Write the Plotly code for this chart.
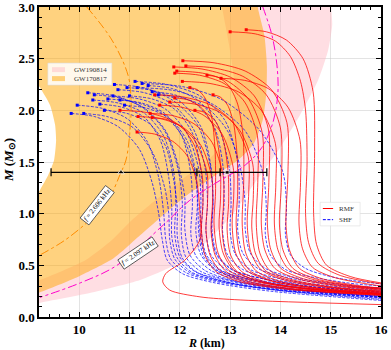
import plotly.graph_objects as go

# GW credible regions (outline points, R in km, M in Msun)
gw190814_r = [9.0, 9.22, 10.21, 11.21, 11.9, 12.5, 13.04, 13.49, 13.99, 14.39, 14.75, 14.95, 15.03, 15.01, 15.0,
              12.82, 12.84, 12.98, 13.08, 13.08, 12.92, 12.56, 12.08, 11.57, 11.05, 10.65, 10.13, 9.22, 9.0]
gw190814_m = [0.10, 0.136, 0.232, 0.358, 0.503, 0.716, 0.987, 1.297, 1.636, 1.955, 2.294, 2.585, 2.827, 3.0, 3.1,
              3.1, 3.0, 2.633, 2.294, 2.004, 1.713, 1.52, 1.346, 1.152, 0.939, 0.745, 0.552, 0.358, 0.33]
gw170817_r = [9.0, 13.55, 13.55, 13.68, 13.73, 13.72, 13.65, 13.47, 13.16, 12.64, 12.12, 11.61, 11.21, 10.69,
              9.98, 9.22, 9.0, 9.0, 9.22, 9.38, 9.50, 9.54, 9.52, 9.42, 9.22, 9.0]
gw170817_m = [3.1, 3.1, 3.0, 2.73, 2.44, 2.17, 1.91, 1.68, 1.52, 1.35, 1.17, 0.96, 0.79, 0.57,
              0.39, 0.24, 0.21, 1.05, 1.23, 1.37, 1.52, 1.71, 1.86, 2.05, 2.22, 2.4]

# constant-frequency lines
f2606_r = [10.15, 10.65, 10.97, 11.03, 11.01, 10.93, 10.83, 10.57, 10.21, 9.72, 9.22]
f2606_m = [3.0, 2.68, 2.34, 2.10, 1.81, 1.52, 1.40, 1.13, 0.94, 0.745, 0.60]
f2097_r = [13.65, 13.83, 13.93, 13.95, 13.85, 13.63, 13.30, 12.76, 12.20, 11.67, 10.75, 10.02, 9.22]
f2097_m = [3.0, 2.73, 2.44, 2.17, 1.88, 1.64, 1.47, 1.31, 1.13, 0.89, 0.50, 0.33, 0.19]

# radius constraints at 1.4 Msun
c14_r = [10.83, 12.94]
c14_m = [1.4, 1.4]
c14_lo = [1.39, 0.60]
c14_hi = [1.97, 0.79]

# RMF mass-radius curves
rmf_r = [
    [13.32, 13.72, 14.12, 14.45, 14.65, 14.68, 14.66, 14.72, 14.92, 15.4, 16.0],
    [13.0, 13.5, 13.9, 14.2, 14.4, 14.5, 14.53, 14.5, 14.56, 14.75, 15.2, 16.0],
    [12.06, 12.68, 13.3, 13.82, 14.13, 14.15, 14.11, 14.18, 14.38, 14.83, 15.6, 16.0],
    [11.88, 12.44, 13.01, 13.48, 13.76, 13.77, 13.74, 13.81, 14.01, 14.46, 15.26, 16.0],
    [12.12, 12.68, 13.25, 13.72, 14.0, 14.02, 13.98, 14.05, 14.25, 14.7, 15.5, 16.0],
    [11.94, 12.45, 12.96, 13.38, 13.64, 13.65, 13.62, 13.69, 13.89, 14.34, 15.14, 16.0],
    [11.9, 12.39, 12.88, 13.29, 13.54, 13.55, 13.52, 13.59, 13.79, 14.24, 15.04, 16.0],
    [12.82, 13.29, 13.76, 14.15, 14.39, 14.4, 14.37, 14.44, 14.64, 15.09, 16.0],
    [12.54, 12.76, 12.97, 13.15, 13.26, 13.27, 13.24, 13.31, 13.51, 13.96, 14.76, 16.0],
    [12.66, 12.8, 12.95, 13.07, 13.14, 13.15, 13.12, 13.19, 13.39, 13.84, 14.64, 16.0],
    [10.81, 11.33, 11.85, 12.28, 12.54, 12.55, 12.52, 12.6, 12.82, 13.3, 14.2, 16.0],
    [11.41, 11.85, 12.28, 12.64, 12.86, 12.87, 12.84, 12.92, 13.14, 13.6, 14.5, 16.0],
    [11.17, 11.61, 12.05, 12.42, 12.64, 12.65, 12.62, 12.7, 12.92, 13.4, 14.3, 16.0],
    [11.15, 11.5, 11.86, 12.16, 12.34, 12.4, 12.4, 12.1, 11.72, 11.66, 11.8, 12.4, 13.2, 16.0],
    [11.6, 12.04, 12.48, 12.84, 13.06, 13.07, 13.04, 13.11, 13.33, 13.8, 14.7, 16.0],
    [11.9, 12.17, 12.44, 12.67, 12.8, 12.81, 12.78, 12.86, 13.08, 13.55, 14.45, 16.0],
    [12.2, 12.35, 12.5, 12.63, 12.7, 12.71, 12.68, 12.76, 12.98, 13.45, 14.35, 16.0],
    [11.45, 11.75, 12.05, 12.3, 12.45, 12.46, 12.43, 12.5, 12.72, 13.2, 14.1, 16.0],
    [11.5, 12.06, 12.62, 13.08, 13.36, 13.37, 13.34, 13.41, 13.61, 14.06, 14.86, 16.0],
    [12.3, 12.5, 12.7, 12.86, 12.96, 12.97, 12.94, 13.01, 13.23, 13.7, 14.6, 16.0],
    [12.05, 12.6, 13.16, 13.62, 13.9, 13.91, 13.88, 13.95, 14.15, 14.6, 15.4, 16.0],
    [11.8, 12.3, 12.8, 13.2, 13.45, 13.46, 13.43, 13.5, 13.7, 14.15, 14.95, 16.0],
]
rmf_m = [
    [2.78, 2.76, 2.68, 2.50, 2.18, 1.6, 1.0, 0.7, 0.5, 0.39, 0.33],
    [2.76, 2.74, 2.67, 2.52, 2.28, 2.0, 1.5, 1.0, 0.72, 0.52, 0.4, 0.32],
    [2.48, 2.46, 2.38, 2.2, 1.88, 1.4, 0.9, 0.65, 0.47, 0.37, 0.3, 0.28],
    [2.42, 2.40, 2.32, 2.14, 1.82, 1.3, 0.9, 0.65, 0.47, 0.37, 0.3, 0.27],
    [2.43, 2.41, 2.33, 2.15, 1.83, 1.3, 0.9, 0.65, 0.47, 0.37, 0.3, 0.28],
    [2.38, 2.36, 2.28, 2.1, 1.78, 1.3, 0.9, 0.65, 0.47, 0.37, 0.3, 0.26],
    [2.36, 2.34, 2.26, 2.08, 1.76, 1.3, 0.9, 0.62, 0.45, 0.36, 0.29, 0.25],
    [2.31, 2.29, 2.21, 2.03, 1.71, 1.3, 0.9, 0.66, 0.48, 0.38, 0.3],
    [2.34, 2.32, 2.24, 2.06, 1.74, 1.3, 0.9, 0.62, 0.45, 0.35, 0.28, 0.24],
    [2.15, 2.13, 2.05, 1.87, 1.55, 1.2, 0.9, 0.62, 0.45, 0.35, 0.28, 0.23],
    [2.0, 1.98, 1.9, 1.72, 1.4, 1.1, 0.85, 0.6, 0.44, 0.34, 0.27, 0.21],
    [1.97, 1.95, 1.87, 1.69, 1.37, 1.1, 0.85, 0.6, 0.44, 0.34, 0.27, 0.22],
    [1.94, 1.92, 1.84, 1.66, 1.34, 1.1, 0.85, 0.6, 0.44, 0.34, 0.27, 0.22],
    [1.79, 1.77, 1.7, 1.55, 1.3, 1.0, 0.75, 0.55, 0.42, 0.34, 0.26, 0.195, 0.165, 0.12],
    [2.05, 2.03, 1.95, 1.77, 1.45, 1.15, 0.9, 0.62, 0.45, 0.35, 0.28, 0.23],
    [2.12, 2.1, 2.02, 1.84, 1.52, 1.15, 0.88, 0.62, 0.45, 0.35, 0.28, 0.22],
    [2.22, 2.2, 2.12, 1.94, 1.62, 1.2, 0.9, 0.62, 0.45, 0.35, 0.28, 0.22],
    [1.93, 1.91, 1.83, 1.65, 1.35, 1.1, 0.85, 0.6, 0.44, 0.34, 0.27, 0.21],
    [2.15, 2.13, 2.05, 1.87, 1.55, 1.2, 0.9, 0.63, 0.46, 0.36, 0.29, 0.25],
    [2.0, 1.98, 1.9, 1.72, 1.4, 1.1, 0.85, 0.6, 0.44, 0.34, 0.27, 0.22],
    [2.28, 2.26, 2.18, 2.0, 1.68, 1.3, 0.9, 0.65, 0.47, 0.37, 0.3, 0.27],
    [2.08, 2.06, 1.98, 1.8, 1.48, 1.15, 0.88, 0.62, 0.45, 0.36, 0.29, 0.24],
]

# SHF mass-radius curves
shf_r = [
    [9.84, 10.3, 10.78, 11.2, 11.45, 11.58, 11.65, 11.75, 12.05, 12.7, 13.8, 16.0],
    [9.96, 10.45, 10.95, 11.35, 11.58, 11.68, 11.72, 11.82, 12.12, 12.75, 13.9, 16.0],
    [10.09, 10.55, 11.05, 11.45, 11.7, 11.78, 11.8, 11.9, 12.2, 12.85, 14.0, 16.0],
    [10.17, 10.7, 11.25, 11.7, 11.97, 12.05, 12.03, 12.12, 12.42, 13.05, 14.1, 16.0],
    [10.27, 10.78, 11.3, 11.68, 11.88, 11.92, 11.9, 12.0, 12.3, 12.95, 14.0, 16.0],
    [10.57, 11.1, 11.62, 12.05, 12.3, 12.35, 12.32, 12.42, 12.72, 13.35, 14.4, 16.0],
    [10.67, 11.2, 11.72, 12.14, 12.38, 12.42, 12.4, 12.5, 12.8, 13.45, 14.5, 16.0],
    [10.77, 11.3, 11.85, 12.27, 12.5, 12.55, 12.52, 12.62, 12.92, 13.55, 14.6, 16.0],
    [10.95, 11.48, 12.02, 12.42, 12.62, 12.66, 12.63, 12.73, 13.03, 13.65, 14.7, 16.0],
    [11.11, 11.75, 12.4, 12.9, 13.15, 13.18, 13.15, 13.25, 13.55, 14.15, 15.1, 16.0],
    [11.15, 11.9, 12.65, 13.3, 13.65, 13.72, 13.7, 13.8, 14.1, 14.7, 15.5, 16.0],
    [11.25, 12.05, 12.85, 13.6, 14.05, 14.12, 14.1, 14.2, 14.5, 15.1, 16.0],
    [11.37, 11.85, 12.35, 12.75, 12.98, 13.02, 13.0, 13.1, 13.4, 14.0, 15.0, 16.0],
    [10.81, 11.25, 11.7, 12.05, 12.22, 12.25, 12.22, 12.32, 12.62, 13.25, 14.3, 16.0],
    [10.41, 10.85, 11.3, 11.62, 11.78, 11.84, 11.84, 11.95, 12.25, 12.9, 14.0, 16.0],
    [11.45, 11.9, 12.35, 12.7, 12.86, 12.88, 12.85, 12.95, 13.25, 13.9, 15.0, 16.0],
    [11.57, 12.05, 12.55, 12.95, 13.2, 13.3, 13.3, 13.4, 13.7, 14.3, 15.3, 16.0],
    [11.0, 11.45, 11.9, 12.25, 12.42, 12.46, 12.43, 12.53, 12.83, 13.45, 14.5, 16.0],
    [10.5, 10.95, 11.4, 11.72, 11.88, 11.95, 11.95, 12.05, 12.35, 13.0, 14.1, 16.0],
    [10.9, 11.35, 11.8, 12.15, 12.32, 12.36, 12.38, 12.48, 12.78, 13.4, 14.4, 16.0],
    [10.3, 10.8, 11.3, 11.72, 11.98, 12.1, 12.1, 12.2, 12.5, 13.1, 14.2, 16.0],
    [10.7, 11.25, 11.85, 12.35, 12.6, 12.66, 12.64, 12.74, 13.04, 13.65, 14.7, 16.0],
]
shf_m = [
    [1.97, 1.94, 1.84, 1.62, 1.3, 1.0, 0.75, 0.55, 0.42, 0.33, 0.25, 0.16],
    [2.05, 2.02, 1.92, 1.7, 1.35, 1.0, 0.75, 0.56, 0.43, 0.34, 0.26, 0.18],
    [1.97, 1.94, 1.84, 1.6, 1.25, 1.0, 0.75, 0.56, 0.43, 0.34, 0.26, 0.19],
    [2.17, 2.14, 2.03, 1.8, 1.42, 1.1, 0.8, 0.58, 0.44, 0.35, 0.27, 0.2],
    [2.10, 2.07, 1.97, 1.75, 1.4, 1.1, 0.8, 0.58, 0.44, 0.35, 0.27, 0.2],
    [2.11, 2.08, 1.98, 1.75, 1.4, 1.1, 0.82, 0.6, 0.45, 0.36, 0.28, 0.22],
    [2.14, 2.11, 2.01, 1.78, 1.42, 1.1, 0.82, 0.6, 0.45, 0.36, 0.28, 0.23],
    [2.20, 2.17, 2.06, 1.82, 1.45, 1.1, 0.82, 0.6, 0.46, 0.36, 0.29, 0.24],
    [2.22, 2.19, 2.08, 1.84, 1.45, 1.1, 0.82, 0.6, 0.46, 0.37, 0.29, 0.25],
    [2.28, 2.25, 2.14, 1.9, 1.5, 1.1, 0.85, 0.62, 0.47, 0.38, 0.31, 0.28],
    [2.22, 2.19, 2.06, 1.8, 1.4, 1.05, 0.8, 0.6, 0.46, 0.38, 0.32, 0.3],
    [2.26, 2.23, 2.1, 1.8, 1.4, 1.05, 0.8, 0.6, 0.47, 0.38, 0.32],
    [2.24, 2.21, 2.1, 1.86, 1.45, 1.1, 0.83, 0.61, 0.46, 0.37, 0.3, 0.27],
    [2.10, 2.07, 1.97, 1.74, 1.38, 1.08, 0.8, 0.59, 0.45, 0.35, 0.27, 0.21],
    [2.06, 2.03, 1.93, 1.7, 1.35, 1.05, 0.78, 0.57, 0.43, 0.34, 0.26, 0.19],
    [2.18, 2.15, 2.05, 1.82, 1.45, 1.1, 0.83, 0.6, 0.46, 0.36, 0.29, 0.26],
    [2.15, 2.12, 2.02, 1.8, 1.45, 1.1, 0.85, 0.62, 0.47, 0.38, 0.31, 0.28],
    [2.14, 2.11, 2.01, 1.78, 1.42, 1.1, 0.82, 0.6, 0.45, 0.36, 0.28, 0.23],
    [2.0, 1.97, 1.87, 1.65, 1.32, 1.05, 0.78, 0.57, 0.43, 0.33, 0.25, 0.17],
    [2.05, 2.02, 1.92, 1.7, 1.38, 1.08, 0.8, 0.58, 0.44, 0.34, 0.26, 0.19],
    [2.15, 2.12, 2.02, 1.8, 1.45, 1.15, 0.85, 0.6, 0.45, 0.35, 0.27, 0.2],
    [2.25, 2.22, 2.1, 1.86, 1.48, 1.12, 0.84, 0.61, 0.46, 0.37, 0.29, 0.24],
]

SERIF = "Liberation Serif"
PINK = "rgba(255,182,193,0.45)"
ORANGE = "rgba(255,165,0,0.5)"
RED = "rgba(255,0,0,0.85)"
BLUE = "rgba(0,0,255,0.8)"

fig = go.Figure()

# GW regions
fig.add_trace(go.Scatter(x=gw190814_r, y=gw190814_m, mode="lines", fill="toself", fillcolor=PINK,
                         line=dict(width=0, shape="spline", smoothing=0.6), hoverinfo="skip"))
fig.add_trace(go.Scatter(x=gw170817_r, y=gw170817_m, mode="lines", fill="toself", fillcolor=ORANGE,
                         line=dict(width=0, shape="spline", smoothing=0.6), hoverinfo="skip"))

# SHF curves (dashed blue)
for r, m in zip(shf_r, shf_m):
    fig.add_trace(go.Scatter(x=r, y=m, mode="lines",
                             line=dict(color=BLUE, width=0.9, dash="3px,1.5px", shape="spline", smoothing=0.8)))
# RMF curves (solid red)
for r, m in zip(rmf_r, rmf_m):
    fig.add_trace(go.Scatter(x=r, y=m, mode="lines",
                             line=dict(color=RED, width=0.9, shape="spline", smoothing=0.8)))

# maximum-mass markers
fig.add_trace(go.Scatter(x=[r[0] for r in shf_r], y=[m[0] for m in shf_m], mode="markers",
                         marker=dict(symbol="square", size=3, color="blue")))
fig.add_trace(go.Scatter(x=[r[0] for r in rmf_r], y=[m[0] for m in rmf_m], mode="markers",
                         marker=dict(symbol="square", size=3, color="red")))

# constant-frequency lines
fig.add_trace(go.Scatter(x=f2606_r, y=f2606_m, mode="lines",
                         line=dict(color="darkorange", width=1, dash="dashdot", shape="spline")))
fig.add_trace(go.Scatter(x=f2097_r, y=f2097_m, mode="lines",
                         line=dict(color="#ff00cc", width=1, dash="dashdot", shape="spline")))

# 1.4 Msun radius constraints
fig.add_trace(go.Scatter(x=c14_r, y=c14_m, mode="markers",
                         marker=dict(symbol=["triangle-up", "square"], size=[6, 4], color="black"),
                         error_x=dict(type="data", symmetric=False, array=c14_hi, arrayminus=c14_lo,
                                      color="black", thickness=1.2, width=4)))

ann = dict(showarrow=False, xanchor="center", yanchor="middle")
fig.add_annotation(x=10.36, y=1.085, text="<i>f</i> = 2.606 kHz", textangle=-52,
                   font=dict(family=SERIF, size=7, color="black"), bgcolor="white",
                   bordercolor="#444", borderwidth=0.8, borderpad=1, **ann)
fig.add_annotation(x=11.17, y=0.62, text="<i>f</i> = 2.097 kHz", textangle=-34,
                   font=dict(family=SERIF, size=7, color="black"), bgcolor="white",
                   bordercolor="#444", borderwidth=0.8, borderpad=1, **ann)

# axis titles
fig.add_annotation(xref="paper", yref="paper", x=0.49, y=-0.085, text="<b><i>R</i> (km)</b>",
                   font=dict(family=SERIF, size=12, color="black"), **ann)
fig.add_annotation(xref="paper", yref="paper", x=-0.088, y=0.506, text="<b><i>M</i> (<i>M</i><sub>⊙</sub>)</b>",
                   textangle=-90, font=dict(family=SERIF, size=13, color="black"), **ann)

# legend 1 (GW regions)
fig.add_shape(type="rect", xref="paper", yref="paper", x0=0.026, x1=0.213, y0=0.748, y1=0.819,
              fillcolor="rgba(255,255,255,0.85)", line=dict(color="#dddddd", width=0.6))
fig.add_shape(type="rect", xref="paper", yref="paper", x0=0.038, x1=0.076, y0=0.790, y1=0.806,
              fillcolor=PINK, line=dict(width=0))
fig.add_shape(type="rect", xref="paper", yref="paper", x0=0.038, x1=0.076, y0=0.761, y1=0.777,
              fillcolor=ORANGE, line=dict(width=0))
leg = dict(xref="paper", yref="paper", showarrow=False, xanchor="left", yanchor="middle",
           font=dict(family=SERIF, size=7, color="#333"))
fig.add_annotation(x=0.0965, y=0.798, text="GW190814", **leg)
fig.add_annotation(x=0.0965, y=0.769, text="GW170817", **leg)

# legend 2 (model families)
fig.add_shape(type="rect", xref="paper", yref="paper", x0=0.822, x1=0.939, y0=0.294, y1=0.370,
              fillcolor="rgba(255,255,255,0.9)", line=dict(color="#dddddd", width=0.6))
fig.add_shape(type="line", xref="paper", yref="paper", x0=0.830, x1=0.860, y0=0.350, y1=0.350,
              line=dict(color="red", width=1))
fig.add_shape(type="line", xref="paper", yref="paper", x0=0.830, x1=0.860, y0=0.314, y1=0.314,
              line=dict(color="blue", width=1, dash="3px,1.5px"))
fig.add_annotation(x=0.872, y=0.350, text="RMF", **leg)
fig.add_annotation(x=0.872, y=0.314, text="SHF", **leg)

axis_common = dict(showline=True, linecolor="black", linewidth=1.5, mirror="ticks", automargin=False,
                   ticks="inside", ticklen=5, tickwidth=1.2, tickcolor="black", ticklabeloverflow="allow",
                   showgrid=True, gridcolor="rgba(200,200,200,0.5)", gridwidth=0.8, zeroline=False,
                   tickfont=dict(family=SERIF, size=13, color="black"),
                   minor=dict(ticks="inside", ticklen=3, tickcolor="black", tickwidth=0.8, showgrid=False))

fig.update_xaxes(range=[9.2, 16], tickvals=[10, 11, 12, 13, 14, 15, 16],
                 ticktext=["<b>%d</b>" % v for v in [10, 11, 12, 13, 14, 15, 16]],
                 minor_dtick=0.2, minor_tick0=9.2, **axis_common)
fig.update_yaxes(range=[0, 3], tickvals=[0, 0.5, 1, 1.5, 2, 2.5, 3],
                 ticktext=["<b>%.1f</b>" % v for v in [0, 0.5, 1, 1.5, 2, 2.5, 3]],
                 minor_dtick=0.1, minor_tick0=0, **axis_common)

fig.update_layout(
    width=391, height=350,
    margin=dict(l=39, r=10, t=7, b=33),
    plot_bgcolor="white", paper_bgcolor="white",
    showlegend=False,
)

# drop the default page margin so the figure sits at the window's top-left corner
fig.write_html("out.html", config={"displayModeBar": False},
               post_script="document.body.style.margin='0px';")
